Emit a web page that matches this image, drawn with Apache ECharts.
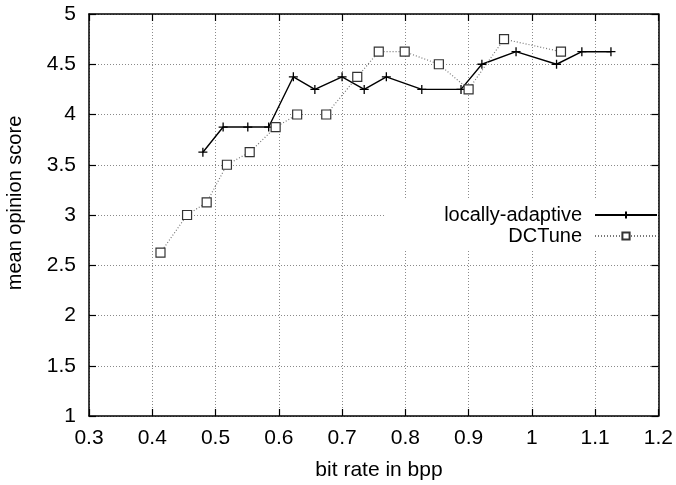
<!DOCTYPE html>
<html>
<head>
<meta charset="utf-8">
<script src="https://cdn.jsdelivr.net/npm/echarts@6/dist/echarts.min.js"></script>
<style>html,body{margin:0;padding:0;background:#fff;}#c{width:676px;height:485px;}</style>
</head>
<body>
<div id="c"></div>
<script>
var laX = [0.48, 0.512, 0.551, 0.584, 0.623, 0.657, 0.70, 0.735, 0.77, 0.826, 0.888, 0.921, 0.975, 1.039, 1.079, 1.125];
var laY = [3.625, 3.875, 3.875, 3.875, 4.375, 4.25, 4.375, 4.25, 4.375, 4.25, 4.25, 4.5, 4.625, 4.5, 4.625, 4.625];
var dcX = [0.413, 0.455, 0.486, 0.518, 0.554, 0.595, 0.629, 0.675, 0.724, 0.758, 0.799, 0.853, 0.90, 0.956, 1.046];
var dcY = [2.625, 3.0, 3.125, 3.5, 3.625, 3.875, 4.0, 4.0, 4.375, 4.625, 4.625, 4.5, 4.25, 4.75, 4.625];
var seriesNames = ['locally-adaptive', 'DCTune'];
var xTitle = 'bit rate in bpp';
var yTitle = 'mean opinion score';

function pairs(xs, ys) { return xs.map(function (x, i) { return [x, ys[i]]; }); }

var FONT = 'Liberation Sans, Arial, Helvetica, sans-serif';
var gridLine = { show: true, lineStyle: { color: '#8a8a8a', width: 1, type: [1, 2] } };
var frameLine = { show: true, onZero: false, lineStyle: { color: '#000', width: 1.5 } };
var tickIn = { show: true, inside: true, length: 7, lineStyle: { color: '#000', width: 1.2 } };

var chart = echarts.init(document.getElementById('c'), null, { renderer: 'canvas' });
chart.setOption({
  animation: false,
  backgroundColor: '#fff',
  textStyle: { fontFamily: FONT },
  grid: { left: 89, right: 17, top: 14, bottom: 69 },
  xAxis: [
    { type: 'value', min: 0.3, max: 1.2, interval: 0.1, position: 'bottom',
      axisLine: frameLine, axisTick: tickIn, splitLine: gridLine,
      axisLabel: { color: '#000', fontSize: 21, margin: 12, fontFamily: FONT,
        formatter: function (v) { return String(Math.round(v * 10) / 10); } } },
    { type: 'value', min: 0.3, max: 1.2, interval: 0.1, position: 'top',
      axisLine: frameLine, axisTick: tickIn, splitLine: { show: false }, axisLabel: { show: false } }
  ],
  yAxis: [
    { type: 'value', min: 1, max: 5, interval: 0.5, position: 'left',
      axisLine: frameLine, axisTick: tickIn, splitLine: gridLine,
      axisLabel: { color: '#000', fontSize: 21, margin: 13, fontFamily: FONT } },
    { type: 'value', min: 1, max: 5, interval: 0.5, position: 'right',
      axisLine: frameLine, axisTick: tickIn, splitLine: { show: false }, axisLabel: { show: false } }
  ],
  legend: {
    orient: 'vertical', right: 18, top: 200, align: 'right',
    backgroundColor: '#fff', padding: [5, 0, 5, 60],
    itemWidth: 62, itemHeight: 9, itemGap: 1,
    textStyle: { color: '#000', fontSize: 20, fontFamily: FONT, padding: [0, 8, 0, 0] },
    data: seriesNames
  },
  series: [
    { name: seriesNames[0], type: 'line', data: pairs(laX, laY),
      symbol: 'path://M0,5L10,5M5,0L5,10', symbolSize: 9,
      lineStyle: { color: '#000', width: 1.4 },
      itemStyle: { color: 'none', borderColor: '#000', borderWidth: 1.3 } },
    { name: seriesNames[1], type: 'line', data: pairs(dcX, dcY),
      symbol: 'rect', symbolSize: 9,
      lineStyle: { color: '#777', width: 1.2, type: [1, 2] },
      itemStyle: { color: '#fff', borderColor: '#333', borderWidth: 1.2 } }
  ],
  graphic: [
    { type: 'text', x: 15, y: 203, rotation: Math.PI / 2,
      style: { text: yTitle, fill: '#000', font: '20px ' + FONT, align: 'center', verticalAlign: 'middle' } },
    { type: 'text', x: 379, y: 470,
      style: { text: xTitle, fill: '#000', font: '21px ' + FONT, align: 'center', verticalAlign: 'middle' } }
  ]
});
</script>
</body>
</html>
